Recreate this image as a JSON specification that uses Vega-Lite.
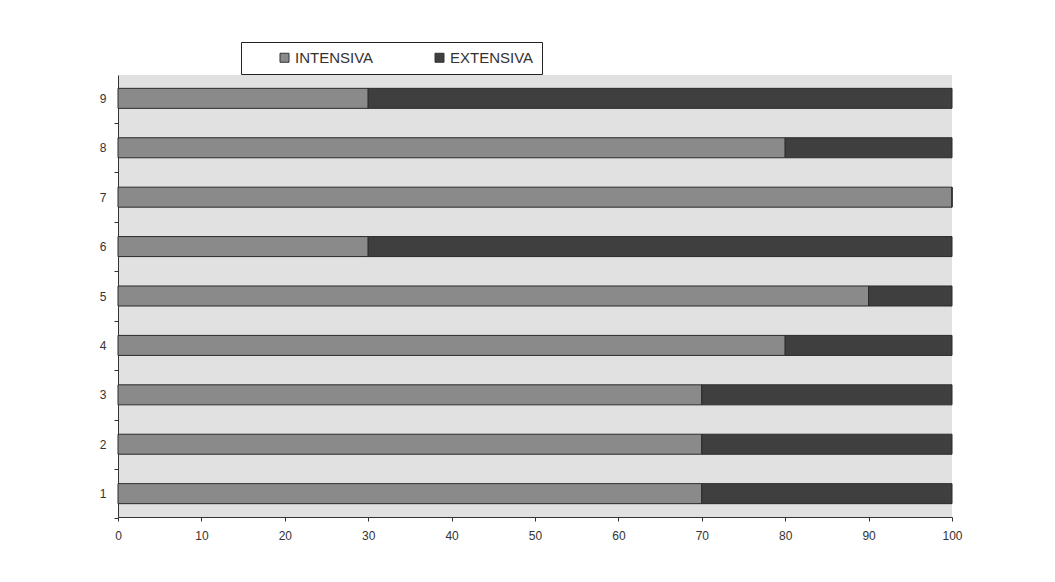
{
  "$schema": "https://vega.github.io/schema/vega-lite/v6.json",
  "width": 834,
  "height": 442,
  "autosize": {"type": "none"},
  "padding": {"left": 118, "top": 75, "right": 103, "bottom": 65},
  "background": "white",
  "config": {
    "view": {"fill": "#e1e1e1", "stroke": null},
    "font": "Liberation Sans Narrow, Liberation Sans, Arial, sans-serif",
    "axis": {
      "grid": false,
      "domainColor": "#333333",
      "tickColor": "#333333",
      "labelColor": "#333333",
      "labelFontSize": 12,
      "labelFont": "Liberation Sans Narrow, Liberation Sans, Arial, sans-serif",
      "title": null
    }
  },
  "data": {
    "values": [
      {"n": "1", "tipo": "INTENSIVA", "v": 70}, {"n": "1", "tipo": "EXTENSIVA", "v": 30},
      {"n": "2", "tipo": "INTENSIVA", "v": 70}, {"n": "2", "tipo": "EXTENSIVA", "v": 30},
      {"n": "3", "tipo": "INTENSIVA", "v": 70}, {"n": "3", "tipo": "EXTENSIVA", "v": 30},
      {"n": "4", "tipo": "INTENSIVA", "v": 80}, {"n": "4", "tipo": "EXTENSIVA", "v": 20},
      {"n": "5", "tipo": "INTENSIVA", "v": 90}, {"n": "5", "tipo": "EXTENSIVA", "v": 10},
      {"n": "6", "tipo": "INTENSIVA", "v": 30}, {"n": "6", "tipo": "EXTENSIVA", "v": 70},
      {"n": "7", "tipo": "INTENSIVA", "v": 100}, {"n": "7", "tipo": "EXTENSIVA", "v": 0},
      {"n": "8", "tipo": "INTENSIVA", "v": 80}, {"n": "8", "tipo": "EXTENSIVA", "v": 20},
      {"n": "9", "tipo": "INTENSIVA", "v": 30}, {"n": "9", "tipo": "EXTENSIVA", "v": 70}
    ]
  },
  "mark": {"type": "bar", "stroke": "#2a2a2a", "strokeWidth": 1},
  "encoding": {
    "y": {
      "field": "n",
      "type": "ordinal",
      "sort": "descending",
      "scale": {"paddingInner": 0.595, "paddingOuter": 0.27},
      "axis": {
        "tickOffset": 24.7,
        "labelOffset": -24.7,
        "tickSize": 4,
        "labelPadding": 8,
        "domainWidth": 1
      }
    },
    "x": {
      "field": "v",
      "type": "quantitative",
      "stack": "zero",
      "scale": {"domain": [0, 100], "nice": false},
      "axis": {
        "values": [0, 10, 20, 30, 40, 50, 60, 70, 80, 90, 100],
        "tickSize": 4,
        "labelPadding": 9,
        "labelFlush": false
      }
    },
    "color": {
      "field": "tipo",
      "type": "nominal",
      "scale": {"domain": ["INTENSIVA", "EXTENSIVA"], "range": ["#8a8a8a", "#3f3f3f"]},
      "legend": {
        "title": null,
        "orient": "none",
        "direction": "horizontal",
        "legendX": 123,
        "legendY": -33,
        "padding": 8,
        "strokeColor": "#222222",
        "fillColor": "white",
        "symbolType": "square",
        "symbolSize": 81,
        "symbolStrokeColor": "#333333",
        "symbolStrokeWidth": 1,
        "symbolOffset": 28,
        "labelOffset": 3,
        "columnPadding": 30,
        "labelFontSize": 15,
        "labelColor": "#333333",
        "labelFont": "Liberation Sans, Arial, sans-serif"
      }
    },
    "order": {"field": "tipo", "sort": "descending"}
  }
}
